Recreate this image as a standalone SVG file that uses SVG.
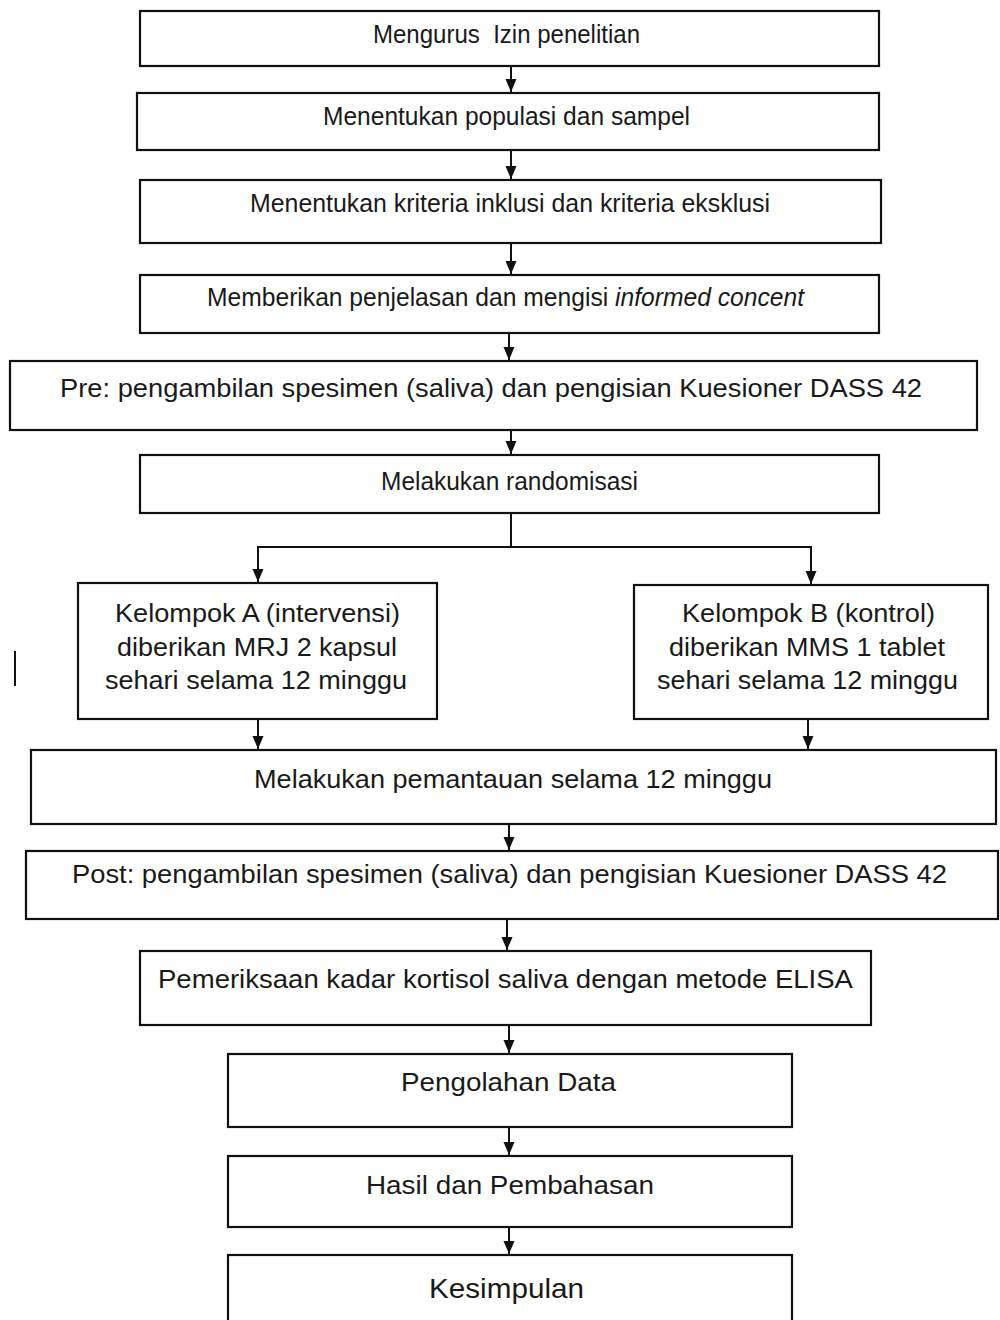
<svg xmlns="http://www.w3.org/2000/svg" width="1000" height="1320" viewBox="0 0 1000 1320">
<style>
.box{fill:#fff;stroke:#111;stroke-width:2.2}
.t{font-family:"Liberation Sans",Arial,sans-serif;font-size:25px;fill:#1a1a1a;text-anchor:middle}
.c{fill:none;stroke:#111;stroke-width:2}
</style>
<defs>
<marker id="ah" markerWidth="13" markerHeight="12" refX="13" refY="5.5" orient="auto" markerUnits="userSpaceOnUse">
<path d="M0,0 L13,5.5 L0,11 Z" fill="#111"/>
</marker>
</defs>
<rect x="0" y="0" width="1000" height="1320" fill="#fff"/>

<g id="connectors">
<line class="c" x1="511" y1="66" x2="511" y2="92" marker-end="url(#ah)"/>
<line class="c" x1="511" y1="150" x2="511" y2="179" marker-end="url(#ah)"/>
<line class="c" x1="511" y1="243" x2="511" y2="274" marker-end="url(#ah)"/>
<line class="c" x1="509" y1="333" x2="509" y2="360" marker-end="url(#ah)"/>
<line class="c" x1="511" y1="430" x2="511" y2="454" marker-end="url(#ah)"/>
<polyline class="c" points="511,513 511,547 258,547 258,582" marker-end="url(#ah)"/>
<polyline class="c" points="511,547 811,547 811,584" marker-end="url(#ah)"/>
<line class="c" x1="258" y1="719" x2="258" y2="749" marker-end="url(#ah)"/>
<line class="c" x1="808" y1="719" x2="808" y2="749" marker-end="url(#ah)"/>
<line class="c" x1="509" y1="824" x2="509" y2="850" marker-end="url(#ah)"/>
<line class="c" x1="507" y1="919" x2="507" y2="950" marker-end="url(#ah)"/>
<line class="c" x1="509" y1="1025" x2="509" y2="1053" marker-end="url(#ah)"/>
<line class="c" x1="509" y1="1127" x2="509" y2="1155" marker-end="url(#ah)"/>
<line class="c" x1="509" y1="1227" x2="509" y2="1254" marker-end="url(#ah)"/>
</g>

<g id="n1">
<rect class="box" x="140" y="11" width="739" height="55"/>
<text class="t" x="506.5" y="43" textLength="267" lengthAdjust="spacingAndGlyphs" style="white-space:pre">Mengurus  Izin penelitian</text>
</g>
<g id="n2">
<rect class="box" x="137" y="93" width="742" height="57"/>
<text class="t" x="506.5" y="125" textLength="367" lengthAdjust="spacingAndGlyphs">Menentukan populasi dan sampel</text>
</g>
<g id="n3">
<rect class="box" x="140" y="180" width="741" height="63"/>
<text class="t" x="510" y="212" textLength="520" lengthAdjust="spacingAndGlyphs">Menentukan kriteria inklusi dan kriteria eksklusi</text>
</g>
<g id="n4">
<rect class="box" x="140" y="275" width="739" height="58"/>
<text class="t" x="505.5" y="306" textLength="597" lengthAdjust="spacingAndGlyphs">Memberikan penjelasan dan mengisi <tspan font-style="italic">informed concent</tspan></text>
</g>
<g id="n5">
<rect class="box" x="10" y="361" width="967" height="69"/>
<text class="t" x="491" y="397" textLength="862" lengthAdjust="spacingAndGlyphs">Pre: pengambilan spesimen (saliva) dan pengisian Kuesioner DASS 42</text>
</g>
<g id="n6">
<rect class="box" x="140" y="455" width="739" height="58"/>
<text class="t" x="509.5" y="490" textLength="257" lengthAdjust="spacingAndGlyphs">Melakukan randomisasi</text>
</g>
<g id="n7">
<rect class="box" x="78" y="583" width="359" height="136"/>
<text class="t" x="257.5" y="622" textLength="285" lengthAdjust="spacingAndGlyphs">Kelompok A (intervensi)</text>
<text class="t" x="257" y="656" textLength="280" lengthAdjust="spacingAndGlyphs">diberikan MRJ 2 kapsul</text>
<text class="t" x="256" y="689" textLength="302" lengthAdjust="spacingAndGlyphs">sehari selama 12 minggu</text>
</g>
<g id="n8">
<rect class="box" x="634" y="585" width="354" height="134"/>
<text class="t" x="808.5" y="622" textLength="253" lengthAdjust="spacingAndGlyphs">Kelompok B (kontrol)</text>
<text class="t" x="807" y="656" textLength="276" lengthAdjust="spacingAndGlyphs">diberikan MMS 1 tablet</text>
<text class="t" x="807.5" y="689" textLength="301" lengthAdjust="spacingAndGlyphs">sehari selama 12 minggu</text>
</g>
<g id="n9">
<rect class="box" x="31" y="750" width="965" height="74"/>
<text class="t" x="513" y="788" textLength="518" lengthAdjust="spacingAndGlyphs">Melakukan pemantauan selama 12 minggu</text>
</g>
<g id="n10">
<rect class="box" x="26" y="851" width="972" height="68"/>
<text class="t" x="509.5" y="883" textLength="875" lengthAdjust="spacingAndGlyphs">Post: pengambilan spesimen (saliva) dan pengisian Kuesioner DASS 42</text>
</g>
<g id="n11">
<rect class="box" x="140" y="951" width="731" height="74"/>
<text class="t" x="505.5" y="988" textLength="695" lengthAdjust="spacingAndGlyphs">Pemeriksaan kadar kortisol saliva dengan metode ELISA</text>
</g>
<g id="n12">
<rect class="box" x="228" y="1054" width="564" height="73"/>
<text class="t" x="508.5" y="1091" textLength="215" lengthAdjust="spacingAndGlyphs">Pengolahan Data</text>
</g>
<g id="n13">
<rect class="box" x="228" y="1156" width="564" height="71"/>
<text class="t" x="510" y="1194" textLength="288" lengthAdjust="spacingAndGlyphs">Hasil dan Pembahasan</text>
</g>
<g id="n14">
<rect class="box" x="228" y="1255" width="564" height="80"/>
<text class="t" x="506.5" y="1298" style="font-size:28px" textLength="155" lengthAdjust="spacingAndGlyphs">Kesimpulan</text>
</g>
<line x1="15" y1="651" x2="15" y2="686" stroke="#111" stroke-width="2"/>
</svg>
